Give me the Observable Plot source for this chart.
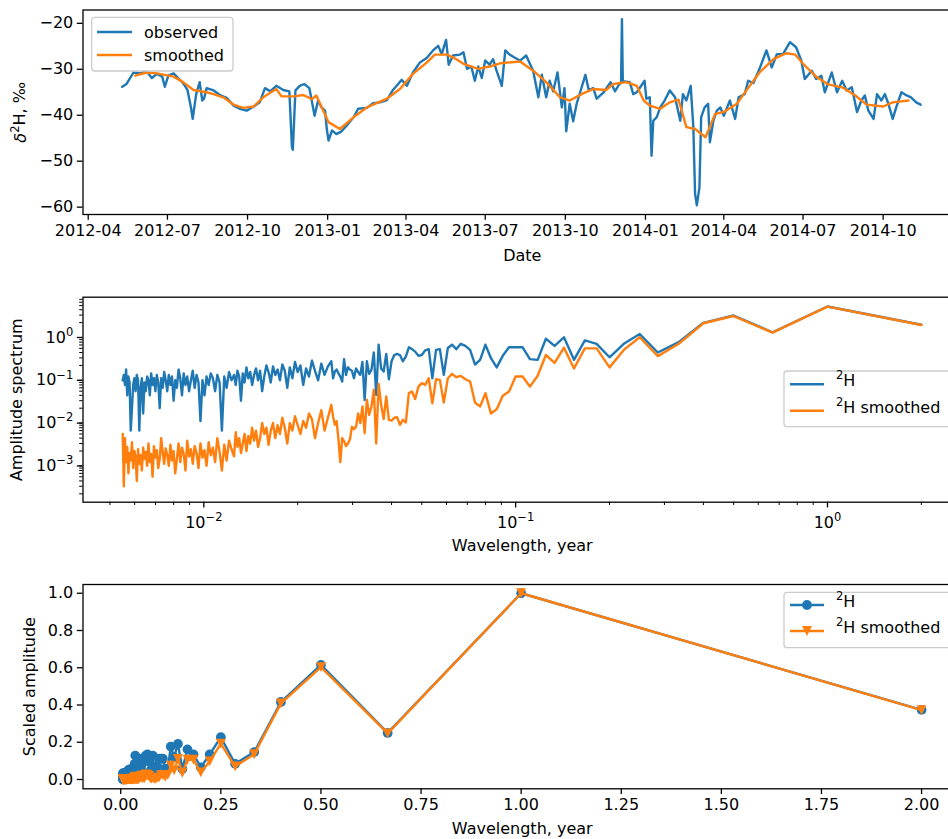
<!DOCTYPE html>
<html><head><meta charset="utf-8">
<script src="https://cdn.jsdelivr.net/npm/d3@7"></script>
<script src="https://cdn.jsdelivr.net/npm/@observablehq/plot@0.6"></script>
<style>
html,body{margin:0;padding:0;background:#fff;overflow:hidden;}
#wrap{position:relative;width:948px;height:839px;overflow:hidden;background:#fff;}
</style></head><body><div id="wrap"></div>
<script>
// ---------------- data: time series ----------------
const obsDates = ["2012-05-10","2012-05-15","2012-05-23","2012-05-31","2012-06-07","2012-06-13","2012-06-19","2012-06-25","2012-06-28","2012-07-02","2012-07-08","2012-07-14","2012-07-19","2012-07-24","2012-07-28","2012-07-30","2012-08-03","2012-08-07","2012-08-10","2012-08-12","2012-08-15","2012-08-23","2012-08-31","2012-09-07","2012-09-15","2012-09-22","2012-09-30","2012-10-08","2012-10-15","2012-10-21","2012-10-27","2012-11-03","2012-11-11","2012-11-18","2012-11-21","2012-11-22","2012-11-25","2012-11-30","2012-12-05","2012-12-11","2012-12-17","2012-12-21","2012-12-25","2012-12-29","2012-12-31","2013-01-02","2013-01-06","2013-01-11","2013-01-17","2013-01-23","2013-01-31","2013-02-05","2013-02-15","2013-02-22","2013-03-02","2013-03-10","2013-03-17","2013-03-23","2013-03-27","2013-04-02","2013-04-09","2013-04-17","2013-04-25","2013-05-02","2013-05-08","2013-05-12","2013-05-17","2013-05-20","2013-05-25","2013-06-02","2013-06-06","2013-06-10","2013-06-15","2013-06-19","2013-06-23","2013-06-27","2013-07-01","2013-07-06","2013-07-10","2013-07-14","2013-07-20","2013-07-24","2013-07-29","2013-08-04","2013-08-10","2013-08-17","2013-08-25","2013-08-31","2013-09-04","2013-09-09","2013-09-13","2013-09-17","2013-09-22","2013-09-27","2013-09-30","2013-10-02","2013-10-06","2013-10-10","2013-10-14","2013-10-18","2013-10-24","2013-10-28","2013-11-02","2013-11-06","2013-11-14","2013-11-22","2013-11-27","2013-12-02","2013-12-04","2013-12-05","2013-12-06","2013-12-14","2013-12-18","2013-12-22","2013-12-26","2013-12-31","2014-01-02","2014-01-06","2014-01-08","2014-01-10","2014-01-14","2014-01-18","2014-01-23","2014-01-29","2014-02-04","2014-02-10","2014-02-13","2014-02-17","2014-02-22","2014-02-25","2014-02-27","2014-03-01","2014-03-04","2014-03-06","2014-03-10","2014-03-14","2014-03-16","2014-03-20","2014-03-24","2014-03-28","2014-04-01","2014-04-08","2014-04-14","2014-04-18","2014-04-25","2014-04-29","2014-05-05","2014-05-12","2014-05-20","2014-05-26","2014-06-01","2014-06-08","2014-06-16","2014-06-23","2014-06-29","2014-07-03","2014-07-11","2014-07-16","2014-07-22","2014-07-26","2014-08-03","2014-08-09","2014-08-15","2014-08-20","2014-08-26","2014-09-01","2014-09-06","2014-09-10","2014-09-14","2014-09-20","2014-09-24","2014-09-29","2014-10-03","2014-10-07","2014-10-12","2014-10-16","2014-10-22","2014-10-28","2014-11-02","2014-11-08","2014-11-13"];
const obsValues = [-33.8,-33.2,-30.7,-30.9,-30.4,-31.9,-31.0,-31.6,-33.8,-31.4,-30.9,-32.1,-33.0,-34.5,-38.3,-40.8,-35.4,-32.8,-36.8,-36.4,-34.1,-34.6,-35.7,-36.2,-37.9,-38.6,-39.0,-38.1,-37.2,-34.1,-34.8,-33.6,-34.5,-34.8,-47.0,-47.5,-34.6,-33.6,-33.2,-34.1,-40.1,-36.8,-38.3,-39.0,-43.0,-45.5,-43.3,-44.1,-43.5,-42.2,-40.4,-38.6,-38.4,-37.4,-37.2,-36.7,-34.5,-33.2,-32.3,-33.6,-30.7,-28.5,-27.5,-25.9,-24.9,-26.7,-23.6,-29.0,-27.0,-26.8,-26.3,-29.9,-29.4,-32.5,-29.4,-31.9,-28.1,-29.0,-27.8,-30.3,-33.6,-25.9,-26.8,-27.5,-28.1,-27.0,-30.3,-36.1,-31.2,-36.1,-32.5,-34.8,-30.7,-38.3,-34.1,-43.5,-37.5,-41.3,-37.5,-35.0,-31.2,-34.6,-34.1,-36.4,-35.0,-32.8,-34.8,-33.2,-33.0,-19.1,-32.6,-32.8,-35.4,-35.0,-33.9,-32.5,-36.4,-36.1,-48.8,-41.2,-40.4,-38.3,-36.8,-34.6,-36.1,-41.2,-35.4,-36.8,-33.6,-42.6,-57.1,-59.6,-55.7,-40.4,-38.3,-37.5,-45.9,-41.2,-39.0,-38.3,-40.1,-36.8,-40.8,-36.1,-35.4,-32.5,-33.0,-29.9,-25.9,-29.6,-26.7,-26.7,-24.1,-25.2,-28.1,-32.1,-30.3,-32.1,-31.4,-35.0,-30.7,-35.0,-32.5,-34.6,-33.9,-39.3,-36.8,-35.7,-39.0,-40.8,-35.4,-36.8,-35.4,-37.5,-40.8,-38.3,-35.0,-35.7,-36.1,-37.2,-37.7];
const smDates = ["2012-05-25","2012-06-07","2012-06-19","2012-07-08","2012-07-19","2012-07-31","2012-08-15","2012-08-23","2012-09-03","2012-09-15","2012-09-26","2012-10-08","2012-10-19","2012-11-03","2012-11-09","2012-11-23","2012-12-04","2012-12-14","2012-12-19","2013-01-02","2013-01-15","2013-01-31","2013-02-15","2013-03-10","2013-03-25","2013-04-09","2013-04-25","2013-05-04","2013-05-18","2013-05-25","2013-06-06","2013-06-23","2013-07-06","2013-07-18","2013-08-10","2013-08-25","2013-09-09","2013-09-25","2013-10-06","2013-10-22","2013-11-02","2013-11-17","2013-11-25","2013-12-10","2013-12-22","2013-12-30","2014-01-06","2014-01-18","2014-01-29","2014-02-08","2014-02-17","2014-02-27","2014-03-11","2014-03-22","2014-04-01","2014-04-16","2014-04-27","2014-05-12","2014-05-28","2014-06-12","2014-06-22","2014-07-01","2014-07-16","2014-07-30","2014-08-16","2014-08-30","2014-09-12","2014-10-01","2014-10-12","2014-10-30"];
const smValues = [-31.4,-30.7,-30.9,-31.6,-32.8,-34.5,-35.0,-35.4,-36.1,-37.7,-38.4,-38.1,-36.1,-34.3,-35.9,-35.9,-35.6,-36.5,-35.7,-41.5,-43.0,-40.4,-38.3,-36.4,-34.3,-31.0,-28.5,-26.8,-26.8,-27.4,-28.8,-29.9,-29.4,-28.7,-28.3,-30.3,-32.8,-36.1,-36.8,-35.2,-34.3,-34.5,-33.2,-32.8,-33.6,-36.8,-37.9,-38.6,-37.2,-36.6,-42.6,-43.0,-44.8,-39.7,-39.3,-37.5,-34.6,-30.7,-27.8,-26.5,-26.8,-28.8,-31.6,-33.3,-34.0,-35.7,-37.7,-38.1,-37.2,-36.8];

// ---------------- data: amplitude spectrum (harmonic k -> wavelength 2/k years) ----------------
const harmonics = [1,2,3,4,5,6,7,8,9,10,11,12,13,14,15,16,17,18,19,20,21,22,23,24,25,26,27,28,29,30,31,32,33,34,35,36,37,38,39,40,41,42,43,44,45,46,47,48,49,50,51,52,53,54,55,56,57,58,59,60,61,62,63,64,65,66,67,68,69,70,71,72,73,74,75,76,77,78,
80,82,84,86,88,90,92,94,96,98,100,102,104,106,108,110,112,114,116,118,120,122,124,126,128,130,132,134,136,138,140,142,144,146,148,150,152,154,156,158,160,
163,166,169,172,175,178,181,184,187,190,193,196,199,202,205,208,211,214,217,220,223,226,229,232,235,238,241,244,247,250,253,256,259,262,265,268,271,274,277,280,283,286,289,292,295,298,301,304,307,310,313,316,319,322,325,328,331,334,337,340,343,346,349,352,355,358,361,364];
const ampObserved = [1.78,4.76,1.19,2.93,1.98,0.70,0.40,1.08,0.64,0.31,
0.64,0.77,0.27,0.91,0.57,0.84,0.27,0.28,0.53,0.53,
0.53,0.335,0.18,0.295,0.61,0.27,0.21,0.46,0.57,0.64,
0.48,0.61,0.51,0.12,0.48,0.46,0.10,0.48,0.45,0.35,
0.335,0.42,0.48,0.53,0.32,0.25,0.35,0.37,0.35,0.25,
0.095,0.37,0.144,0.17,0.61,0.041,0.40,0.158,0.127,0.25,
0.031,0.24,0.12,0.14,0.17,0.10,0.15,0.16,0.18,0.12,
0.28,0.084,0.11,0.13,0.16,0.144,0.10,0.25,
0.19,0.12,0.22,0.09,0.15,0.26,0.11,0.17,0.07,0.20,
0.14,0.24,0.10,0.18,0.06,0.15,0.21,0.09,0.16,0.12,
0.19,0.08,0.14,0.20,0.11,0.05,0.15,0.09,0.17,0.12,
0.07,0.14,0.10,0.18,0.08,0.13,0.03,0.11,0.15,0.07,
0.12,
0.09,0.14,0.06,0.11,0.006,0.08,0.12,0.05,0.10,0.13,
0.07,0.11,0.04,0.09,0.010,0.08,0.12,0.06,0.15,0.09,
0.05,0.11,0.07,0.13,0.04,0.10,0.16,0.06,0.09,0.03,
0.11,0.07,0.12,0.05,0.09,0.14,0.06,0.10,0.02,0.08,
0.12,0.05,0.10,0.07,0.13,0.04,0.09,0.11,0.05,0.08,
0.015,0.10,0.06,0.006,0.09,0.12,0.05,0.10,0.07,0.02,
0.006,0.08,0.11,0.04,0.16,0.07,0.12,0.09];
const ampSmoothed = [1.76,4.72,1.17,2.85,1.93,0.64,0.33,0.91,0.46,0.18,
0.50,0.50,0.17,0.52,0.23,0.35,0.115,0.064,0.11,0.11,
0.049,0.039,0.019,0.015,0.045,0.022,0.027,0.084,0.095,0.114,
0.106,0.127,0.10,0.027,0.092,0.095,0.026,0.10,0.070,0.077,
0.064,0.033,0.049,0.045,0.0093,0.0107,0.0082,0.0124,0.012,0.0103,
0.0107,0.0376,0.0111,0.024,0.074,0.0030,0.054,0.0219,0.014,0.0314,
0.0052,0.022,0.009,0.015,0.0074,0.0065,0.0074,0.0037,0.0030,0.0026,
0.0034,0.0040,0.0011,0.0037,0.0099,0.0082,0.0128,0.024,
0.012,0.006,0.018,0.009,0.004,0.011,0.015,0.007,0.010,0.005,
0.008,0.013,0.006,0.009,0.003,0.007,0.012,0.005,0.008,0.004,
0.009,0.006,0.0028,0.007,0.005,0.009,0.004,0.0025,0.006,0.0035,
0.007,0.003,0.0045,0.002,0.005,0.003,0.0018,0.004,0.0025,0.0055,
0.0015,
0.0022,0.0035,0.0012,0.0028,0.0007,0.0019,0.0040,0.0011,0.0024,0.0016,
0.0032,0.0009,0.0021,0.0014,0.0030,0.0008,0.0018,0.0026,0.0010,0.0022,
0.0015,0.0035,0.0007,0.0017,0.0024,0.0011,0.0030,0.0013,0.0006,0.0020,
0.0012,0.0028,0.0009,0.0016,0.0023,0.0010,0.0019,0.0040,0.0013,0.0008,
0.0021,0.0014,0.0026,0.0005,0.0017,0.0011,0.0030,0.0009,0.0019,0.0013,
0.0024,0.0007,0.0016,0.0010,0.0022,0.0004,0.0015,0.0020,0.0008,0.0032,
0.0012,0.0018,0.0006,0.0025,0.0011,0.0040,0.0003,0.0050];

// ---------------- ticks & domains ----------------
const dateTicks = ["2012-04-01","2012-07-01","2012-10-01","2013-01-01","2013-04-01","2013-07-01","2013-10-01","2014-01-01","2014-04-01","2014-07-01","2014-10-01"];
const topYTicks = [-60,-50,-40,-30,-20];
const topXDomain = ["2012-03-26","2014-12-30"];
const topYDomain = [-61.6,-17.1];
const logXMajor = [0.01,0.1,1];
const logXMinor = [0.005,0.006,0.007,0.008,0.009,0.02,0.03,0.04,0.05,0.06,0.07,0.08,0.09,0.2,0.3,0.4,0.5,0.6,0.7,0.8,0.9,2];
const logYMajor = [0.001,0.01,0.1,1];
const logYMinor = [2e-4,3e-4,4e-4,5e-4,6e-4,7e-4,8e-4,9e-4,2e-3,3e-3,4e-3,5e-3,6e-3,7e-3,8e-3,9e-3,0.02,0.03,0.04,0.05,0.06,0.07,0.08,0.09,0.2,0.3,0.4,0.5,0.6,0.7,0.8,0.9,2,3,4,5,6,7];
const midXDomain = [0.004098,2.69];
const midYDomain = [1.274e-4,7.85];
const botXTicks = [0,0.25,0.5,0.75,1,1.25,1.5,1.75,2];
const botYTicks = [0,0.2,0.4,0.6,0.8,1];
const botXDomain = [-0.0942,2.0997];
const botYDomain = [-0.05,1.047];

// ---------------- build ----------------
const C0 = "#1f77b4", C1 = "#ff7f0e";
const W = 970, ML = 82.5, MR = 9;
const FONT = "'DejaVu Sans', sans-serif";
const base = {width: W, marginLeft: ML, marginRight: MR,
  style: {fontFamily: FONT, fontSize: "16px", color: "black", background: "white", maxWidth: "none", overflow: "visible"}};
const minus = v => (v < 0 ? "\u2212" + Math.abs(v) : String(v));
const expOf = v => Math.round(Math.log10(v));
const pow10 = v => "10^" + expOf(v);
const ax = {tickSize: 5.7, tickPadding: 4, strokeWidth: 1.3, label: null};
const minorAx = {tickSize: 3.3, strokeWidth: 1, tickFormat: () => "", label: null};
const ylab = {frameAnchor: "left", rotate: -90, textAnchor: "middle", lineAnchor: "middle", fontSize: 16};
const xlab = {frameAnchor: "bottom", textAnchor: "middle", lineAnchor: "middle", fontSize: 16};

const obs = obsDates.map((d, i) => ({date: new Date(d), value: obsValues[i]}));
const sm = smDates.map((d, i) => ({date: new Date(d), value: smValues[i]}));
const maxA = d3.max(ampObserved), maxS = d3.max(ampSmoothed);
const spec = harmonics.map((k, i) => ({wl: 2 / k, a: ampObserved[i], s: ampSmoothed[i], sa: ampObserved[i] / maxA, ss: ampSmoothed[i] / maxS}));

const wrap = document.getElementById("wrap");
function place(svg, top) { svg.style.position = "absolute"; svg.style.left = "0px"; svg.style.top = top + "px"; wrap.appendChild(svg); return svg; }

const triDown = {draw(ctx, size) { const r = Math.sqrt(size / Math.PI); ctx.moveTo(0, r); ctx.lineTo(-r, -r); ctx.lineTo(r, -r); ctx.closePath(); }};

function legend(svg, box, rows) {
  const g = d3.select(svg).append("g").attr("font-family", FONT).attr("font-size", 16).attr("text-anchor", "start");
  g.append("rect").attr("x", box.x).attr("y", box.y).attr("width", box.w).attr("height", box.h).attr("rx", 3)
    .attr("fill", "white").attr("fill-opacity", 0.8).attr("stroke", "#cccccc").attr("stroke-width", 1.3);
  const cx = (box.lx0 + box.lx1) / 2;
  rows.forEach(r => {
    g.append("line").attr("x1", box.lx0).attr("x2", box.lx1).attr("y1", r.y).attr("y2", r.y).attr("stroke", r.color).attr("stroke-width", 2.4);
    if (r.marker === "circle") g.append("circle").attr("cx", cx).attr("cy", r.y).attr("r", 4.9).attr("fill", r.color);
    if (r.marker === "tri") g.append("path").attr("d", `M${cx},${r.y + 4.9}L${cx - 4.9},${r.y - 4.9}L${cx + 4.9},${r.y - 4.9}Z`).attr("fill", r.color);
    const t = g.append("text").attr("x", box.tx).attr("y", r.y).attr("dy", "0.35em").attr("fill", "black");
    if (r.sup) { t.append("tspan").attr("font-size", "11.5px").attr("dy", "-0.45em").text(r.sup); t.append("tspan").attr("dy", "0.45em").text(r.label); }
    else t.text(r.label);
  });
}

// render "10^-2" tick labels as 10 with a raised exponent
function superscriptTicks(svg) {
  d3.select(svg).selectAll("text").each(function() {
    const s = this.textContent;
    const m = /^10\^(-?\d+)$/.exec(s);
    if (!m) return;
    const t = d3.select(this); t.text("");
    t.append("tspan").text("10");
    t.append("tspan").attr("font-size", "11.5px").attr("dy", "-0.6em").text(m[1].replace("-", "\u2212"));
  });
}

// Top panel
const svgTop = Plot.plot({...base, height: 270, marginTop: 9.5, marginBottom: 56,
  x: {type: "utc", domain: topXDomain.map(d => new Date(d))},
  y: {domain: topYDomain},
  marks: [
    Plot.line(obs, {x: "date", y: "value", stroke: C0, strokeWidth: 2.4}),
    Plot.line(sm, {x: "date", y: "value", stroke: C1, strokeWidth: 2.4}),
    Plot.frame({stroke: "black", strokeWidth: 1.3}),
    Plot.axisX({...ax, ticks: dateTicks.map(d => new Date(d)), tickFormat: d3.utcFormat("%Y-%m")}),
    Plot.axisY({...ax, ticks: topYTicks, tickFormat: minus}),
    Plot.text(["Date"], {...xlab, text: d => d, dy: 41}),
    Plot.text(["\u03B4\u00B2H, \u2030"], {...ylab, text: d => d, dx: -62.5})
  ]});
place(svgTop, 0);
d3.select(svgTop).selectAll("text").filter(function() { return this.textContent === "\u03B4\u00B2H, \u2030"; }).each(function() {
  const t = d3.select(this); t.text("");
  t.append("tspan").attr("font-style", "italic").text("\u03B4");
  t.append("tspan").attr("font-size", "11.5px").attr("dy", "-0.6em").text("2");
  t.append("tspan").attr("dy", "0.42em").text("H, \u2030");
});
legend(svgTop, {x: 91.7, y: 17.3, w: 141.3, h: 53.7, lx0: 97, lx1: 132, tx: 144},
  [{y: 32, color: C0, label: "observed"}, {y: 55, color: C1, label: "smoothed"}]);

// Middle panel
const svgMid = Plot.plot({...base, height: 270, marginTop: 11.7, marginBottom: 53.3,
  x: {type: "log", domain: midXDomain},
  y: {type: "log", domain: midYDomain},
  marks: [
    Plot.line(spec, {x: "wl", y: "a", stroke: C0, strokeWidth: 2.4}),
    Plot.line(spec, {x: "wl", y: "s", stroke: C1, strokeWidth: 2.4}),
    Plot.frame({stroke: "black", strokeWidth: 1.3}),
    Plot.axisX({...minorAx, ticks: logXMinor}),
    Plot.axisY({...minorAx, ticks: logYMinor}),
    Plot.axisX({...ax, tickPadding: 9, ticks: logXMajor, tickFormat: pow10}),
    Plot.axisY({...ax, ticks: logYMajor, tickFormat: pow10, dy: 2}),
    Plot.text(["Wavelength, year"], {...xlab, text: d => d, dy: 43.3}),
    Plot.text(["Amplitude spectrum"], {...ylab, text: d => d, dx: -65.8})
  ]});
place(svgMid, 285);
superscriptTicks(svgMid);
legend(svgMid, {x: 784, y: 86, w: 172, h: 55.7, lx0: 790, lx1: 824, tx: 836},
  [{y: 99.3, color: C0, sup: "2", label: "H"}, {y: 125.7, color: C1, sup: "2", label: "H smoothed"}]);

// Bottom panel
const svgBot = Plot.plot({...base, height: 269, marginTop: 14, marginBottom: 50.7,
  x: {domain: botXDomain},
  y: {domain: botYDomain},
  marks: [
    Plot.line(spec, {x: "wl", y: "sa", stroke: C0, strokeWidth: 2.4}),
    Plot.dot(spec, {x: "wl", y: "sa", fill: C0, r: 4.9, symbol: "circle"}),
    Plot.line(spec, {x: "wl", y: "ss", stroke: C1, strokeWidth: 2.4}),
    Plot.dot(spec, {x: "wl", y: "ss", fill: C1, r: 4.9, symbol: triDown}),
    Plot.frame({stroke: "black", strokeWidth: 1.3}),
    Plot.axisX({...ax, ticks: botXTicks, tickFormat: d3.format(".2f")}),
    Plot.axisY({...ax, ticks: botYTicks, tickFormat: d3.format(".1f")}),
    Plot.text(["Wavelength, year"], {...xlab, text: d => d, dy: 39.7}),
    Plot.text(["Scaled amplitude"], {...ylab, text: d => d, dx: -53.5})
  ]});
place(svgBot, 570);
legend(svgBot, {x: 784, y: 22.3, w: 172, h: 55.4, lx0: 790, lx1: 824, tx: 836},
  [{y: 35, color: C0, sup: "2", label: "H", marker: "circle"}, {y: 61, color: C1, sup: "2", label: "H smoothed", marker: "tri"}]);
</script></body></html>
